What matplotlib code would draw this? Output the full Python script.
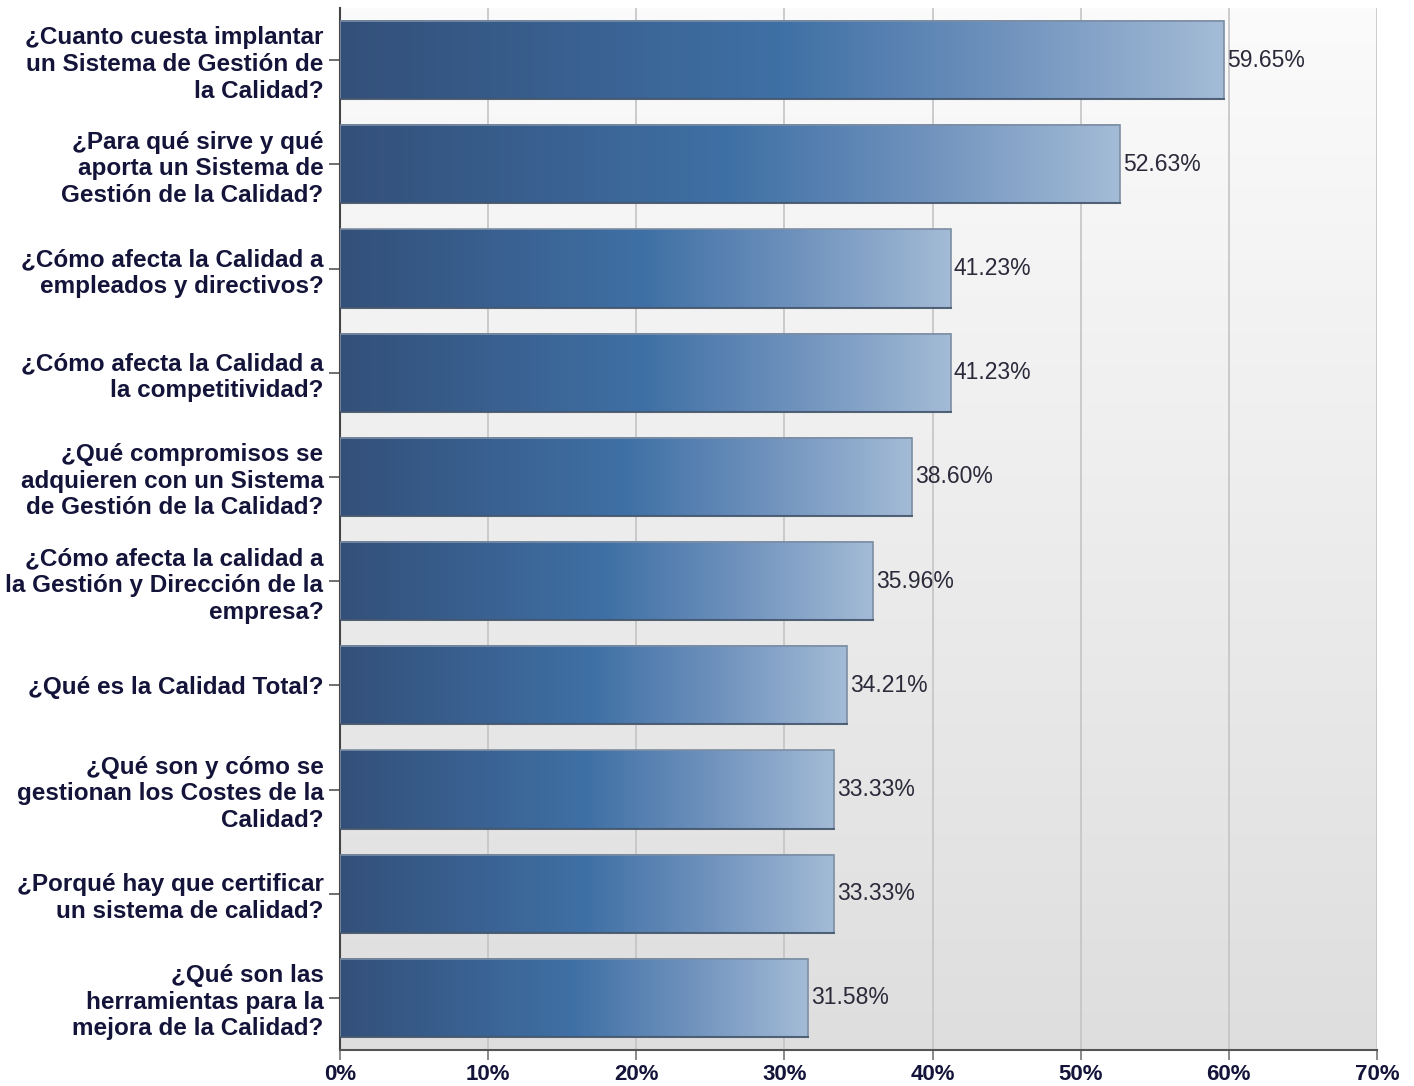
import numpy as np
import matplotlib
matplotlib.use("Agg")
import matplotlib.pyplot as plt
from matplotlib.colors import LinearSegmentedColormap
from matplotlib.patches import Rectangle
from matplotlib.ticker import FuncFormatter

plt.rcParams['font.family'] = ['Liberation Sans', 'DejaVu Sans']

categories = [
    "¿Cuanto cuesta implantar\nun Sistema de Gestión de\nla Calidad?",
    "¿Para qué sirve y qué\naporta un Sistema de\nGestión de la Calidad?",
    "¿Cómo afecta la Calidad a\nempleados y directivos?",
    "¿Cómo afecta la Calidad a\nla competitividad?",
    "¿Qué compromisos se\nadquieren con un Sistema\nde Gestión de la Calidad?",
    "¿Cómo afecta la calidad a\nla Gestión y Dirección de la\nempresa?",
    "¿Qué es la Calidad Total?",
    "¿Qué son y cómo se\ngestionan los Costes de la\nCalidad?",
    "¿Porqué hay que certificar\nun sistema de calidad?",
    "¿Qué son las\nherramientas para la\nmejora de la Calidad?",
]
values = [59.65, 52.63, 41.23, 41.23, 38.60, 35.96, 34.21, 33.33, 33.33, 31.58]
xticks = [0, 10, 20, 30, 40, 50, 60, 70]

bar_cmap = LinearSegmentedColormap.from_list(
    "bar", [(0.0, "#33507a"), (0.5, "#3f70a5"), (0.75, "#6f92bd"), (1.0, "#a3bbd6")])
bg_cmap = LinearSegmentedColormap.from_list("bg", ["#fbfbfb", "#dedede"])

fig = plt.figure(figsize=(14.14, 10.86), dpi=100)
ax = fig.add_axes([0.2405, 0.0331, 0.7333, 0.9595])

ax.set_xlim(0, 70)
ax.set_ylim(len(values) - 0.5, -0.5)

# background gradient (light at top, darker at bottom)
grad = np.linspace(0, 1, 256).reshape(-1, 1)
ax.imshow(grad, aspect="auto", cmap=bg_cmap, extent=[0, 1, 0, 1],
          origin="upper", transform=ax.transAxes, zorder=0)

ax.set_axisbelow(True)
ax.grid(axis="x", color="#c4c4c4", linewidth=1.2, zorder=1)

h = 0.75
row = np.linspace(0, 1, 256).reshape(1, -1)
for i, v in enumerate(values):
    ax.imshow(row, aspect="auto", cmap=bar_cmap,
              extent=[0, v, i + h / 2, i - h / 2], zorder=3, interpolation="bilinear")
    ax.add_patch(Rectangle((0, i - h / 2), v, h, fill=False,
                           edgecolor="#7d8ea3", linewidth=1.2, zorder=4))
    ax.plot([0, v], [i + h / 2, i + h / 2], color="#2a3b52", linewidth=1.5,
            alpha=0.6, zorder=4)
    ax.text(v + 0.2, i, "%.2f%%" % v, va="center", ha="left",
            fontsize=16.5, color="#2a2a3a", zorder=5)

ax.set_xlim(0, 70)
ax.set_ylim(len(values) - 0.5, -0.5)

ax.set_yticks(range(len(categories)))
ax.set_yticklabels(categories, fontsize=17.5, fontweight="bold", color="#14143a",
                   linespacing=1.2)
ax.set_xticks(xticks)
ax.xaxis.set_major_formatter(FuncFormatter(lambda x, p: "%d%%" % x))
for lab in ax.get_xticklabels():
    lab.set_fontweight("bold")
    lab.set_fontsize(16)
    lab.set_color("#14143a")

ax.tick_params(axis="y", length=8, width=1.2, color="#555555", pad=4)
ax.tick_params(axis="x", length=7, width=1.2, color="#777777", pad=3)

for s in ["top", "right"]:
    ax.spines[s].set_visible(False)
ax.spines["left"].set_color("#444444")
ax.spines["left"].set_linewidth(1.5)
ax.spines["bottom"].set_color("#555555")
ax.spines["bottom"].set_linewidth(1.5)

fig.savefig("out.png", dpi=100)
